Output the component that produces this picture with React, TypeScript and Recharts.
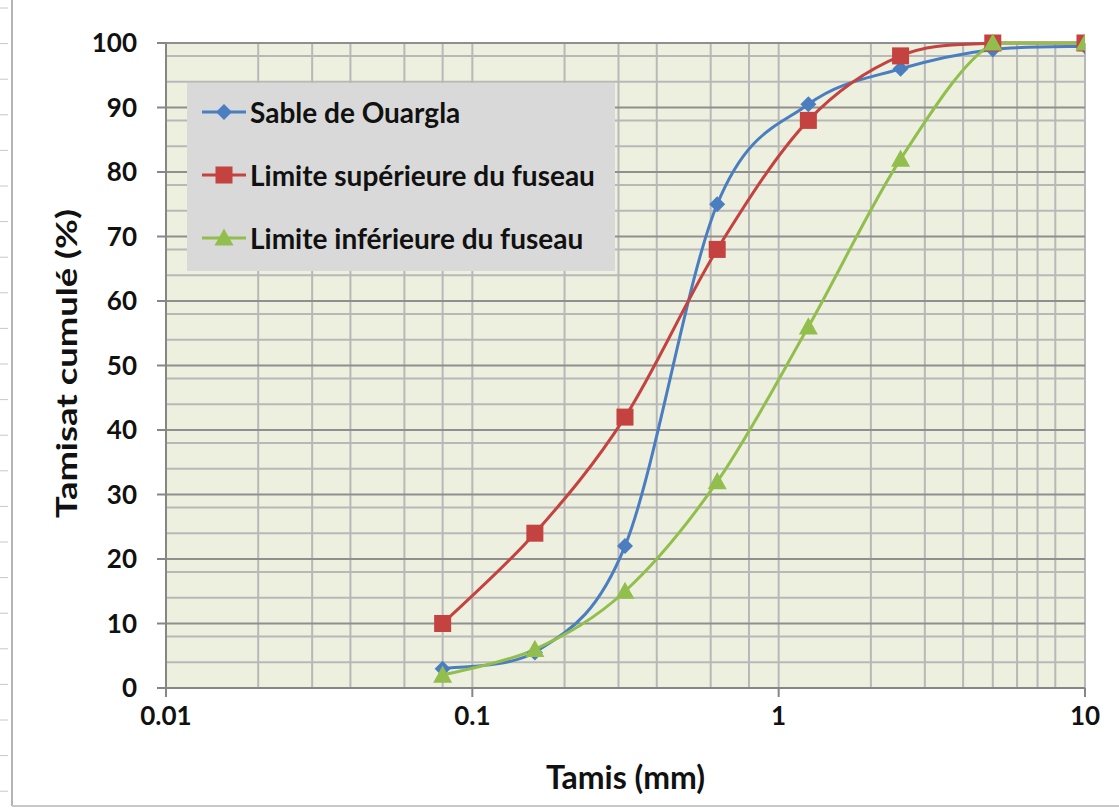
import React from "react";
import {
  LineChart,
  Line,
  XAxis,
  YAxis,
  CartesianGrid,
  Legend,
} from "recharts";

// sieve openings (mm) and cumulative passing (%)
const tamis = [0.08, 0.16, 0.315, 0.63, 1.25, 2.5, 5, 10];
const sableOuargla = [3, 5.5, 22, 75, 90.5, 96, 99, 99.5];
const limiteSup = [10, 24, 42, 68, 88, 98, 100, 100];
const limiteInf = [2, 6, 15, 32, 56, 82, 100, 100];

const xTicks = [0.01, 0.1, 1, 10];
const xGridValues = [
  0.01, 0.02, 0.03, 0.04, 0.05, 0.06, 0.07, 0.08, 0.09,
  0.1, 0.2, 0.3, 0.4, 0.5, 0.6, 0.7, 0.8, 0.9,
  1, 2, 3, 4, 5, 6, 7, 8, 9, 10,
];
const yTicks = [0, 10, 20, 30, 40, 50, 60, 70, 80, 90, 100];
const yMinorValues = [
  2, 4, 6, 8, 12, 14, 16, 18, 22, 24, 26, 28, 32, 34, 36, 38, 42, 44, 46, 48,
  52, 54, 56, 58, 62, 64, 66, 68, 72, 74, 76, 78, 82, 84, 86, 88, 92, 94, 96, 98,
];

const chartData = tamis.map((t, i) => ({
  tamis: t,
  sable: sableOuargla[i],
  sup: limiteSup[i],
  inf: limiteInf[i],
}));

const BLUE = "#4A7EC0";
const RED = "#C4423F";
const GREEN = "#92BE4E";
const FONT = "Lato, 'Open Sans', sans-serif";

// Excel-like smoothed line; control points kept inside each segment's y range
const excelSmooth = (context: any) => {
  let pts: [number, number][] = [];
  const clamp = (v: number, a: number, b: number) =>
    Math.min(Math.max(v, Math.min(a, b)), Math.max(a, b));
  return {
    areaStart() {},
    areaEnd() {},
    lineStart() {
      pts = [];
    },
    point(x: number, y: number) {
      pts.push([+x, +y]);
    },
    lineEnd() {
      const n = pts.length;
      if (!n) return;
      context.moveTo(pts[0][0], pts[0][1]);
      for (let i = 0; i < n - 1; i++) {
        const p0 = pts[i === 0 ? 0 : i - 1];
        const p1 = pts[i];
        const p2 = pts[i + 1];
        const p3 = pts[i + 2 < n ? i + 2 : n - 1];
        context.bezierCurveTo(
          p1[0] + (p2[0] - p0[0]) / 6,
          clamp(p1[1] + (p2[1] - p0[1]) / 6, p1[1], p2[1]),
          p2[0] - (p3[0] - p1[0]) / 6,
          clamp(p2[1] - (p3[1] - p1[1]) / 6, p1[1], p2[1]),
          p2[0],
          p2[1]
        );
      }
    },
  };
};

type Shape = "diamond" | "square" | "triangle";

function Marker({ cx, cy, shape, color }: { cx: number; cy: number; shape: Shape; color: string }) {
  if (shape === "diamond") {
    const r = 8;
    return (
      <path
        d={`M${cx},${cy - r}L${cx + r},${cy}L${cx},${cy + r}L${cx - r},${cy}Z`}
        fill={color}
      />
    );
  }
  if (shape === "square") {
    const s = 8.5;
    return <rect x={cx - s} y={cy - s} width={s * 2} height={s * 2} fill={color} />;
  }
  const r = 9.5;
  return (
    <path
      d={`M${cx},${cy - r}L${cx + r},${cy + r * 0.8}L${cx - r},${cy + r * 0.8}Z`}
      fill={color}
    />
  );
}

const series: { key: string; name: string; color: string; shape: Shape }[] = [
  { key: "sable", name: "Sable de Ouargla", color: BLUE, shape: "diamond" },
  { key: "sup", name: "Limite supérieure du fuseau", color: RED, shape: "square" },
  { key: "inf", name: "Limite inférieure du fuseau", color: GREEN, shape: "triangle" },
];

function LegendBox() {
  return (
    <div
      style={{
        background: "#D9D9D9",
        width: 428,
        height: 188,
        boxSizing: "border-box",
        paddingTop: 0,
        fontFamily: FONT,
        overflow: "hidden",
      }}
    >
      <div style={{ marginTop: -3 }}>
        {series.map((s) => (
          <div
            key={s.key}
            style={{ display: "flex", alignItems: "center", height: 63 }}
          >
            <svg width={44} height={24} style={{ marginLeft: 15, marginRight: 4 }}>
              <line x1={0} y1={12} x2={44} y2={12} stroke={s.color} strokeWidth={3} />
              <Marker cx={22} cy={12} shape={s.shape} color={s.color} />
            </svg>
            <span style={{ fontSize: 28, fontWeight: 700, color: "#111", whiteSpace: "nowrap" }}>
              {s.name}
            </span>
          </div>
        ))}
      </div>
    </div>
  );
}

function YTitle(props: any) {
  const vb = props.viewBox || { x: 0, y: 43, width: 166, height: 645 };
  const cx = vb.x + 66;
  const cy = vb.y + vb.height / 2 - 2;
  return (
    <text
      x={0}
      y={0}
      transform={`translate(${cx} ${cy}) rotate(-90) scale(1.3 1)`}
      textAnchor="middle"
      dominantBaseline="central"
      fontSize={28}
      fontWeight={700}
      fill="#111"
    >
      Tamisat cumulé (%)
    </text>
  );
}

function Frame() {
  const marks = [];
  for (let i = 0; i < 23; i++) marks.push(8 + i * 35.6);
  return (
    <svg
      width={1119}
      height={810}
      style={{ position: "absolute", left: 0, top: 0 }}
    >
      <line x1={12} y1={0} x2={12} y2={806} stroke="#B4B4B4" strokeWidth={2} />
      <line x1={12} y1={806} x2={1119} y2={806} stroke="#C8C8C8" strokeWidth={2} />
      {marks.map((y) => (
        <line key={y} x1={0} y1={y} x2={8} y2={y} stroke="#C8C8C8" strokeWidth={1} />
      ))}
    </svg>
  );
}

export default function App() {
  return (
    <div
      style={{
        position: "relative",
        width: 1119,
        height: 810,
        background: "#fff",
        fontFamily: FONT,
      }}
    >
      <style>{"body{margin:0}"}</style>
      <Frame />
      <div style={{ position: "absolute", left: 0, top: 0 }}>
        <LineChart
          width={1119}
          height={810}
          data={chartData}
          margin={{ top: 43, right: 34, left: 0, bottom: 0 }}
        >
          <CartesianGrid
            fill="#EDF0DE"
            stroke="#B8B8B8"
            strokeWidth={2}
            horizontalValues={yMinorValues}
            verticalValues={xGridValues}
          />
          <CartesianGrid
            stroke="#8F8F8F"
            strokeWidth={2}
            vertical={false}
            horizontalValues={yTicks}
          />
          <XAxis
            dataKey="tamis"
            type="number"
            scale="log"
            domain={[0.01, 10]}
            ticks={xTicks}
            allowDataOverflow
            height={122}
            tickSize={9}
            tickMargin={10}
            tickFormatter={(v: number) => String(v)}
            tick={{ fill: "#111", fontSize: 26, fontWeight: 700 }}
            axisLine={{ stroke: "#868686", strokeWidth: 2 }}
            tickLine={{ stroke: "#868686", strokeWidth: 2 }}
            label={{
              value: "Tamis (mm)",
              position: "insideBottom",
              offset: 21,
              fill: "#111",
              fontSize: 32,
              fontWeight: 700,
            }}
          />
          <YAxis
            type="number"
            domain={[0, 100]}
            ticks={yTicks}
            width={166}
            tickSize={9}
            tickMargin={20}
            tick={{ fill: "#111", fontSize: 26, fontWeight: 700 }}
            axisLine={{ stroke: "#868686", strokeWidth: 2 }}
            tickLine={{ stroke: "#868686", strokeWidth: 2 }}
            label={<YTitle />}
          />
          <Legend
            layout="vertical"
            align="center"
            verticalAlign="middle"
            wrapperStyle={{ left: 187, top: 83, width: 428, height: 188 }}
            content={() => <LegendBox />}
          />
          {series.map((s) => (
            <Line
              key={s.key}
              dataKey={s.key}
              name={s.name}
              type={excelSmooth as any}
              stroke={s.color}
              strokeWidth={3}
              isAnimationActive={false}
              dot={(p: any) => (
                <Marker key={`${s.key}-${p.index}`} cx={p.cx} cy={p.cy} shape={s.shape} color={s.color} />
              )}
              activeDot={false}
            />
          ))}
        </LineChart>
      </div>
    </div>
  );
}
